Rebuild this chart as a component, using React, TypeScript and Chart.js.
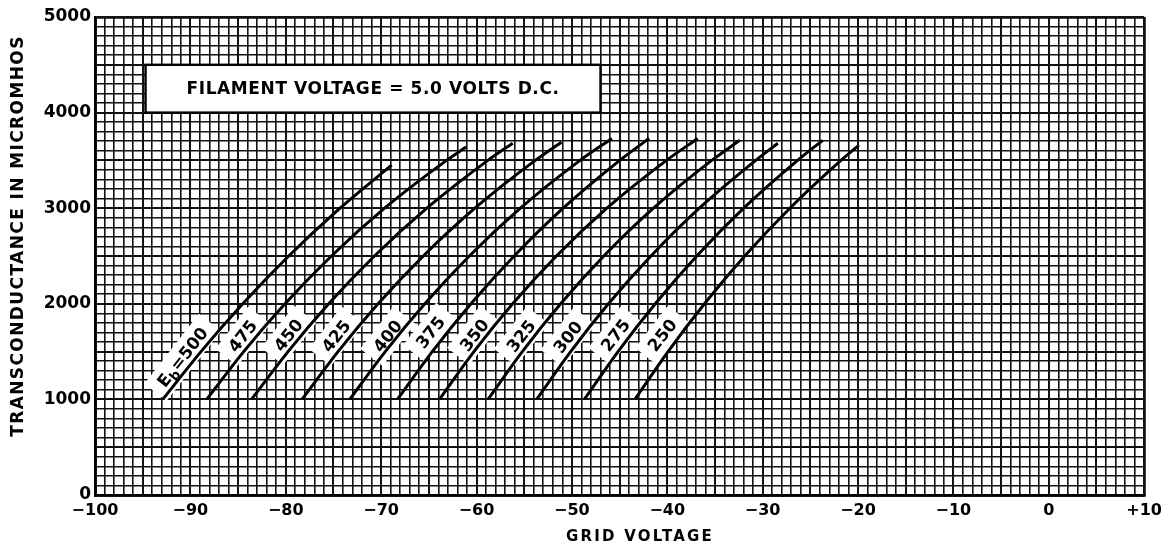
import React, { useEffect, useRef } from "react";
import { Chart, registerables } from "chart.js";

Chart.register(...registerables);

// Axis ranges / tick labels
const xMin = -100;
const xMax = 10;
const yMin = 0;
const yMax = 5000;
const xLabelStep = 10;
const yLabelStep = 1000;

// Plate voltage (Eb) curves: grid voltage (V) vs transconductance (micromhos)
const plateVoltages = [500, 475, 450, 425, 400, 375, 350, 325, 300, 275, 250];

const eb500V = [-92.9, -88.89, -84.51, -79.69, -74.31, -68.9];
const eb500Gm = [1000, 1500, 2000, 2500, 3000, 3450];
const eb475V = [-88.3, -84.41, -80.08, -75.21, -69.64, -63.14, -61.1];
const eb475Gm = [1000, 1500, 2000, 2500, 3000, 3500, 3640];
const eb450V = [-83.6, -79.76, -75.5, -70.7, -65.21, -58.81, -56.2];
const eb450Gm = [1000, 1500, 2000, 2500, 3000, 3500, 3680];
const eb425V = [-78.3, -74.52, -70.32, -65.58, -60.17, -53.84, -51.1];
const eb425Gm = [1000, 1500, 2000, 2500, 3000, 3500, 3690];
const eb400V = [-73.3, -69.57, -65.42, -60.75, -55.4, -49.14, -45.8];
const eb400Gm = [1000, 1500, 2000, 2500, 3000, 3500, 3730];
const eb375V = [-68.3, -64.64, -60.58, -56.05, -50.92, -44.98, -41.9];
const eb375Gm = [1000, 1500, 2000, 2500, 3000, 3500, 3730];
const eb350V = [-63.9, -60.27, -56.21, -51.62, -46.33, -40.09, -36.8];
const eb350Gm = [1000, 1500, 2000, 2500, 3000, 3500, 3730];
const eb325V = [-58.8, -55.2, -51.18, -46.65, -41.45, -35.34, -32.4];
const eb325Gm = [1000, 1500, 2000, 2500, 3000, 3500, 3710];
const eb300V = [-53.7, -50.13, -46.17, -41.71, -36.64, -30.73, -28.4];
const eb300Gm = [1000, 1500, 2000, 2500, 3000, 3500, 3680];
const eb275V = [-48.7, -45.16, -41.26, -36.91, -31.99, -26.34, -23.7];
const eb275Gm = [1000, 1500, 2000, 2500, 3000, 3500, 3710];
const eb250V = [-43.4, -39.92, -36.1, -31.88, -27.15, -21.79, -19.9];
const eb250Gm = [1000, 1500, 2000, 2500, 3000, 3500, 3660];

const curveV = [eb500V, eb475V, eb450V, eb425V, eb400V, eb375V, eb350V, eb325V, eb300V, eb275V, eb250V];
const curveGm = [eb500Gm, eb475Gm, eb450Gm, eb425Gm, eb400Gm, eb375Gm, eb350Gm, eb325Gm, eb300Gm, eb275Gm, eb250Gm];

// Curve label anchors (data units)
const labelV = [-90.8, -84.5, -79.7, -74.7, -69.3, -64.8, -60.2, -55.3, -50.4, -45.4, -40.5];
const labelGm = [1440, 1660, 1670, 1660, 1660, 1700, 1670, 1660, 1650, 1670, 1670];

// Note box (data units)
const noteText = "FILAMENT VOLTAGE = 5.0 VOLTS D.C.";
const noteBoxV = [-94.7, -47.0];
const noteBoxGm = [4000, 4500];

const xTitle = "GRID VOLTAGE";
const yTitle = "TRANSCONDUCTANCE IN MICROMHOS";

const FONT = '"DejaVu Sans", sans-serif';

const annotationPlugin = {
  id: "tubeAnnotations",
  beforeDatasetsDraw(chart: any) {
    const { ctx, scales } = chart;
    const x = scales.x;
    const y = scales.y;
    ctx.save();
    // Note box
    const bx0 = x.getPixelForValue(noteBoxV[0]);
    const bx1 = x.getPixelForValue(noteBoxV[1]);
    const by0 = y.getPixelForValue(noteBoxGm[1]);
    const by1 = y.getPixelForValue(noteBoxGm[0]);
    ctx.fillStyle = "#fff";
    ctx.fillRect(bx0, by0, bx1 - bx0, by1 - by0);
    ctx.strokeStyle = "#000";
    ctx.lineWidth = 2.4;
    ctx.strokeRect(bx0, by0, bx1 - bx0, by1 - by0);
    ctx.fillStyle = "#000";
    ctx.font = `bold 17px ${FONT}`;
    ctx.textAlign = "center";
    ctx.textBaseline = "middle";
    (ctx as any).letterSpacing = "0.6px";
    ctx.fillText(noteText, (bx0 + bx1) / 2, (by0 + by1) / 2 + 1);
    (ctx as any).letterSpacing = "0px";

    // Curve labels
    const ang = (-52 * Math.PI) / 180;
    for (let i = 0; i < plateVoltages.length; i++) {
      const px = x.getPixelForValue(labelV[i]);
      const py = y.getPixelForValue(labelGm[i]);
      ctx.save();
      ctx.translate(px, py);
      ctx.rotate(ang);
      const main = `bold 17px ${FONT}`;
      const sub = `bold 13px ${FONT}`;
      let parts: { t: string; f: string; dy: number }[];
      if (i === 0) {
        parts = [
          { t: "E", f: main, dy: 0 },
          { t: "b", f: sub, dy: 5 },
          { t: "=" + plateVoltages[i], f: main, dy: 0 },
        ];
      } else {
        parts = [{ t: String(plateVoltages[i]), f: main, dy: 0 }];
      }
      let w = 0;
      for (const p of parts) {
        ctx.font = p.f;
        w += ctx.measureText(p.t).width;
      }
      ctx.fillStyle = "#fff";
      ctx.fillRect(-w / 2 - 9, -14, w + 18, 28);
      ctx.fillStyle = "#000";
      ctx.textAlign = "left";
      ctx.textBaseline = "middle";
      let cx = -w / 2;
      for (const p of parts) {
        ctx.font = p.f;
        ctx.fillText(p.t, cx, 1 + p.dy);
        cx += ctx.measureText(p.t).width;
      }
      ctx.restore();
    }
    ctx.restore();
  },
  afterDraw(chart: any) {
    const { ctx } = chart;
    ctx.save();
    ctx.fillStyle = "#000";
    ctx.textAlign = "center";
    ctx.textBaseline = "middle";
    ctx.font = `bold 15px ${FONT}`;
    (ctx as any).letterSpacing = "2.2px";
    ctx.fillText(xTitle, 640, 537);
    ctx.translate(19, 236);
    ctx.rotate(-Math.PI / 2);
    ctx.font = `bold 17px ${FONT}`;
    (ctx as any).letterSpacing = "1.4px";
    ctx.fillText(yTitle, 0, 0);
    ctx.restore();
  },
};

function fmtX(v: number): string {
  const r = Math.round(v);
  if (r % xLabelStep !== 0) return "";
  if (r > 0) return "+" + r;
  if (r < 0) return "\u2212" + Math.abs(r);
  return "0";
}

function fmtY(v: number): string {
  const r = Math.round(v);
  return r % yLabelStep === 0 ? String(r) : "";
}

export default function App() {
  const ref = useRef<HTMLCanvasElement | null>(null);
  useEffect(() => {
    if (!ref.current) return;
    const datasets = plateVoltages.map((eb, i) => ({
      label: "Eb=" + eb,
      data: curveV[i].map((v, j) => ({ x: v, y: curveGm[i][j] })),
      showLine: true,
      borderColor: "#000",
      borderWidth: 3,
      pointRadius: 0,
      fill: false,
      cubicInterpolationMode: "monotone" as const,
    }));
    const gridWidth = (ctx: any, min: number, max: number, major: number) => {
      const v = Math.round(ctx.tick.value);
      if (v === min || v === max) return 2.8;
      if (v % major === 0) return 2.0;
      return 1.6;
    };
    const chart = new Chart(ref.current, {
      type: "scatter",
      data: { datasets },
      plugins: [annotationPlugin],
      options: {
        animation: false,
        responsive: false,
        layout: { padding: { left: 0, right: 23, top: 17, bottom: 0 } },
        plugins: { legend: { display: false }, tooltip: { enabled: false } },
        scales: {
          x: {
            type: "linear",
            min: xMin,
            max: xMax,
            afterFit: (s: any) => {
              s.height = 52;
            },
            border: { display: true, color: "#000", width: 2.8 },
            grid: {
              color: "#111",
              lineWidth: (c: any) => gridWidth(c, xMin, xMax, 5),
              drawTicks: false,
            },
            ticks: {
              stepSize: 1,
              autoSkip: false,
              maxTicksLimit: 1000,
              maxRotation: 0,
              padding: 6,
              color: "#000",
              font: { family: FONT, size: 16, weight: "bold" },
              callback: (v: any) => fmtX(Number(v)),
            },
          },
          y: {
            type: "linear",
            min: yMin,
            max: yMax,
            afterFit: (s: any) => {
              s.width = 95;
            },
            border: { display: true, color: "#000", width: 2.8 },
            grid: {
              color: "#111",
              lineWidth: (c: any) => gridWidth(c, yMin, yMax, 500),
              drawTicks: false,
            },
            ticks: {
              stepSize: 100,
              autoSkip: false,
              maxTicksLimit: 1000,
              padding: 4,
              color: "#000",
              font: { family: FONT, size: 17, weight: "bold" },
              callback: (v: any) => fmtY(Number(v)),
            },
          },
        },
      },
    });
    return () => chart.destroy();
  }, []);
  return (
    <div style={{ position: "absolute", left: 0, top: 0, width: 1168, height: 547, background: "#fff" }}>
      <canvas ref={ref} width={1168} height={547} style={{ display: "block" }} />
    </div>
  );
}
